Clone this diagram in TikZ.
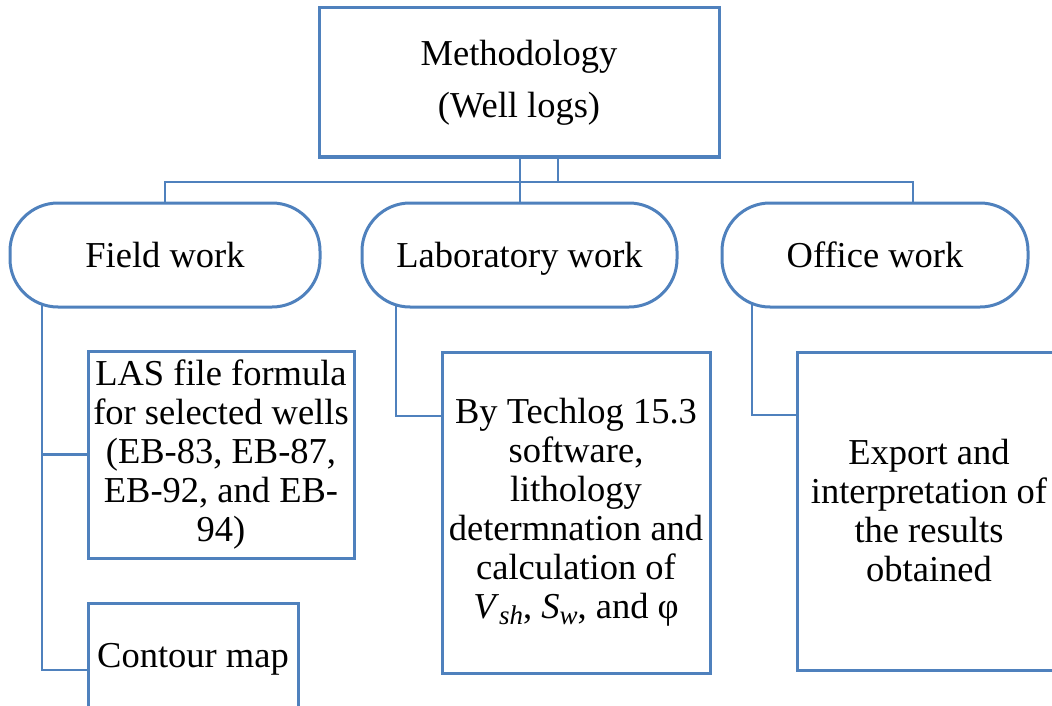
\documentclass[tikz,border=0pt]{standalone}
\usepackage{fontspec}
\setmainfont{Liberation Serif}
\usetikzlibrary{backgrounds,calc}
\definecolor{boxblue}{RGB}{79,129,189}
\tikzset{
  box/.style={draw=boxblue, line width=3pt, fill=white, rectangle, align=center, inner sep=2pt,
    font=\fontsize{36.5}{39}\selectfont},
  pill/.style={box, rounded corners=48pt, text height=25pt, text depth=0pt},
  conn/.style={draw=boxblue, line width=2.4pt}
}
\newcommand{\subit}[2]{\textit{#1}\raisebox{-0.35ex}{\fontsize{27}{27}\selectfont\textit{#2}}}
\begin{document}
\begin{tikzpicture}[x=1pt,y=-1pt]
\useasboundingbox (0,0) rectangle (1052,706);
\clip (0,0) rectangle (1052,706);
% top
\node[box, minimum width=400pt, minimum height=149pt] (top) at (519,82.5) {Methodology\\[13pt](Well logs)};
% level 1
\node[pill, minimum width=310pt, minimum height=104pt] (field) at (165,255) {Field work};
\node[pill, minimum width=315pt, minimum height=104pt] (lab) at (519.5,255) {Laboratory work};
\node[pill, minimum width=306pt, minimum height=104pt] (office) at (875,255) {Office work};
% level 2
\node[box, minimum width=266pt, minimum height=207pt] (las) at (221,454.5)
  {LAS file formula\\for selected wells\\(EB-83, EB-87,\\EB-92, and EB-\\94)};
\node[box, minimum width=210pt, minimum height=112pt] (contour) at (193,659) {Contour map};
\node[box, minimum width=268pt, minimum height=321pt] (techlog) at (576,512.5)
  {By Techlog 15.3\\software,\\lithology\\determnation and\\calculation of\\\subit{V}{sh}, \subit{S}{w}, and φ};
\node[box, minimum width=264pt, minimum height=318pt] (export) at (929,511)
  {Export and\\interpretation of\\the results\\obtained};
% connector points
\coordinate (barL) at (165,182);
\coordinate (barR) at (913,182);
\coordinate (barM) at (520,182);
\coordinate (barM2) at (558,182);
\coordinate (fx) at (42,300);
\coordinate (lx) at (396,300);
\coordinate (ox) at (752,300);
\begin{scope}[on background layer]
  \draw[conn] (top.south -| barM) -- (lab.north -| barM);
  \draw[conn] (top.south -| barM2) -- (barM2);
  \draw[conn] (field.north -| barL) -- (barL) -- (barR) -- (office.north -| barR);
  \draw[conn] (fx) -- (fx |- 0,670) -- (contour.west |- 0,670);
  \draw[conn] (fx |- las.west) -- (las.west);
  \draw[conn] (lx) -- (lx |- 0,416) -- (techlog.west |- 0,416);
  \draw[conn] (ox) -- (ox |- 0,415) -- (export.west |- 0,415);
\end{scope}
\end{tikzpicture}
\end{document}
